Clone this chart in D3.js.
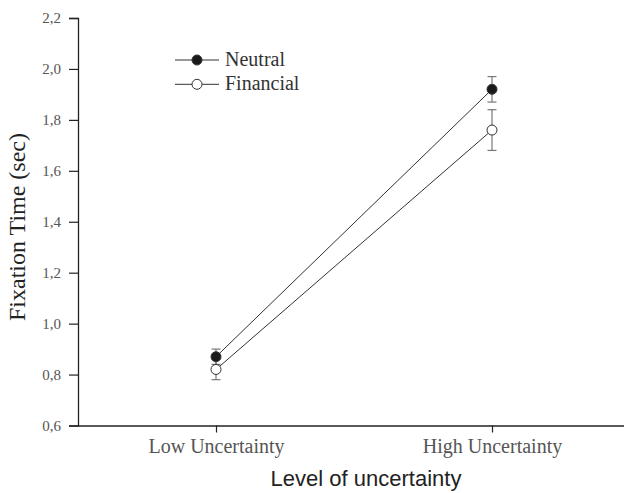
<!DOCTYPE html>
<html>
<head>
<meta charset="utf-8">
<script src="https://cdn.jsdelivr.net/npm/d3@7"></script>
<style>
  html, body { margin: 0; padding: 0; background: #fff; }
  svg { display: block; }
</style>
</head>
<body>
<svg id="chart" width="624" height="493"></svg>
<script>
const categories = ["Low Uncertainty", "High Uncertainty"];
const seriesNames = ["Neutral", "Financial"];
const neutralMean = [0.87, 1.92];
const neutralErr  = [0.03, 0.05];
const financialMean = [0.82, 1.76];
const financialErr  = [0.04, 0.08];
const yTicks = [0.6, 0.8, 1.0, 1.2, 1.4, 1.6, 1.8, 2.0, 2.2];

const series = [
  { name: seriesNames[0], mean: neutralMean, err: neutralErr, fill: "#1a1a1a" },
  { name: seriesNames[1], mean: financialMean, err: financialErr, fill: "#ffffff" }
];

const svg = d3.select("#chart");
const plotLeft = 78, plotRight = 630, plotTop = 18, plotBottom = 425.5;

const x = d3.scalePoint().domain(categories).range([plotLeft, plotRight]).padding(0.5);
const y = d3.scaleLinear().domain([0.6, 2.2]).range([plotBottom, plotTop]);

const serif = "'Liberation Serif', 'Times New Roman', serif";
const sans = "'Liberation Sans', Arial, sans-serif";

// Y axis
const yAxis = svg.append("g")
  .attr("transform", `translate(${plotLeft},0)`)
  .call(d3.axisLeft(y).tickValues(yTicks).tickSize(9).tickPadding(8)
    .tickFormat(d => d3.format(".1f")(d).replace(".", ",")));
yAxis.select(".domain").attr("stroke", "#222").attr("stroke-width", 1.3);
yAxis.selectAll(".tick line").attr("stroke", "#222").attr("stroke-width", 1.2);
yAxis.selectAll(".tick text").attr("font-family", serif).attr("font-size", 15).attr("fill", "#555");

// X axis
const xAxis = svg.append("g")
  .attr("transform", `translate(0,${plotBottom})`)
  .call(d3.axisBottom(x).tickSize(7).tickPadding(6).tickSizeOuter(0));
xAxis.select(".domain").attr("stroke", "#222").attr("stroke-width", 1.3);
xAxis.selectAll(".tick line").attr("stroke", "#222").attr("stroke-width", 1.2);
xAxis.selectAll(".tick text").attr("font-family", serif).attr("font-size", 20).attr("fill", "#555");

// Axis titles
svg.append("text")
  .attr("transform", `translate(25,227) rotate(-90)`)
  .attr("text-anchor", "middle")
  .attr("font-family", serif).attr("font-size", 24).attr("fill", "#222")
  .text("Fixation Time (sec)");

svg.append("text")
  .attr("x", 366).attr("y", 485.5)
  .attr("text-anchor", "middle")
  .attr("font-family", sans).attr("font-size", 22).attr("fill", "#222")
  .text("Level of uncertainty");

// Lines
const line = d3.line().x((d, i) => x(categories[i])).y(d => y(d));
series.forEach(s => {
  svg.append("path").attr("d", line(s.mean))
    .attr("fill", "none").attr("stroke", "#333").attr("stroke-width", 1);
});

// Error bars
series.forEach(s => {
  s.mean.forEach((m, i) => {
    const cx = x(categories[i]);
    const g = svg.append("g").attr("stroke", "#777").attr("stroke-width", 1.2);
    g.append("line").attr("x1", cx).attr("x2", cx).attr("y1", y(m - s.err[i])).attr("y2", y(m + s.err[i]));
    [m - s.err[i], m + s.err[i]].forEach(v => {
      g.append("line").attr("x1", cx - 4.5).attr("x2", cx + 4.5).attr("y1", y(v)).attr("y2", y(v));
    });
  });
});

// Markers
series.forEach(s => {
  s.mean.forEach((m, i) => {
    svg.append("circle").attr("cx", x(categories[i])).attr("cy", y(m)).attr("r", 5)
      .attr("fill", s.fill).attr("stroke", "#333").attr("stroke-width", 1);
  });
});

// Legend
const legend = svg.append("g");
series.forEach((s, i) => {
  const ly = 60 + i * 24.3;
  legend.append("line").attr("x1", 175).attr("x2", 219).attr("y1", ly).attr("y2", ly)
    .attr("stroke", "#333").attr("stroke-width", 1);
  legend.append("circle").attr("cx", 197).attr("cy", ly).attr("r", 5)
    .attr("fill", s.fill).attr("stroke", "#333").attr("stroke-width", 1);
  legend.append("text").attr("x", 225).attr("y", ly + 6)
    .attr("font-family", serif).attr("font-size", 20).attr("fill", "#333")
    .text(s.name);
});
</script>
</body>
</html>
